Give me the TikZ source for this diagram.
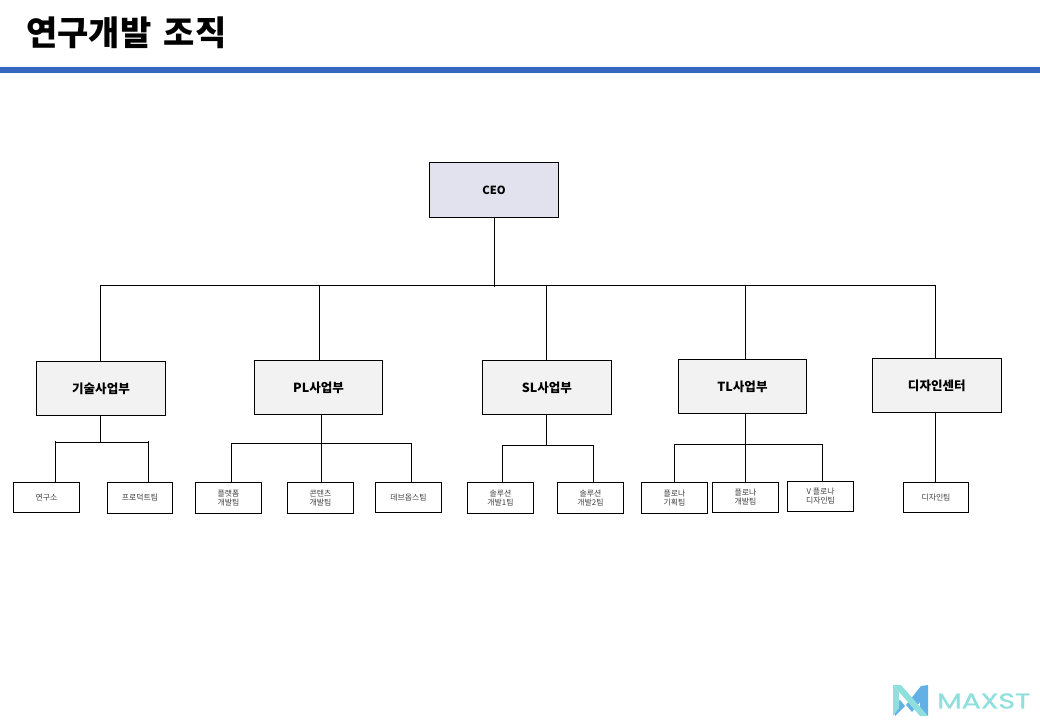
\documentclass[tikz,border=0pt]{standalone}
\usepackage{graphicx}
\usepackage{fontspec}
\setmainfont{Noto Sans CJK KR}
\newfontfamily\logofont[FakeBold=1]{Poppins}
\definecolor{barblue}{HTML}{3566C0}
\definecolor{ceofill}{HTML}{E2E2EF}
\definecolor{deptfill}{HTML}{F2F2F2}
\definecolor{logoa}{HTML}{8FE0DC}
\definecolor{logob}{HTML}{62B0E6}
\tikzset{
 px/.style={x=0.75pt,y=-0.75pt},
 ceobox/.style={draw=black,line width=0.7pt,fill=ceofill,minimum width=96.3pt,minimum height=41pt,inner sep=0pt,font=\fontsize{8.4pt}{10pt}\selectfont\bfseries},
 deptbox/.style={draw=black,line width=0.7pt,fill=deptfill,minimum width=96.3pt,minimum height=41pt,inner sep=0pt,font=\fontsize{9.4pt}{10pt}\selectfont\bfseries},
 widedept/.style={deptbox,minimum width=96.9pt},
 teambox/.style={draw=black,line width=0.7pt,fill=white,minimum width=49pt,minimum height=22.5pt,inner sep=0pt,align=center,text=black!75,font=\fontsize{5.9pt}{6.7pt}\selectfont},
 tallteam/.style={teambox,minimum height=23.2pt},
 conn/.style={draw=black,line width=0.7pt},
}
\begin{document}
\begin{tikzpicture}[px]
\useasboundingbox (0,0) rectangle (1040,720);
\fill[barblue] (0,67) rectangle (1040,73);
\node[anchor=west,inner sep=0pt,font=\fontsize{25.5pt}{28pt}\selectfont\bfseries] (title) at (26,33) {연구개발\hspace{3.5pt} 조직};
\node[ceobox] (ceo) at (494,190) {CEO};
\node[deptbox] (d1) at (101,388.5) {기술사업부};
\node[deptbox] (d2) at (318.5,387.5) {PL사업부};
\node[widedept] (d3) at (546.8,387.5) {SL사업부};
\node[deptbox] (d4) at (742.5,386.5) {TL사업부};
\node[widedept] (d5) at (936.8,385.5) {디자인센터};
\node[teambox] (t1) at (46.5,497.3) {연구소};
\node[tallteam] (t2) at (140,497.8) {프로덕트팀};
\node[tallteam] (t3) at (228.5,497.8) {플랫폼\\개발팀};
\node[tallteam] (t4) at (320.5,497.8) {콘텐츠\\개발팀};
\node[teambox] (t5) at (408.5,497.3) {데브옵스팀};
\node[tallteam] (t6) at (500.5,497.8) {솔루션\\개발1팀};
\node[tallteam] (t7) at (590.5,497.8) {솔루션\\개발2팀};
\node[tallteam] (t8) at (674.5,497.8) {플로나\\기획팀};
\node[teambox] (t9) at (745.5,497.3) {플로나\\개발팀};
\node[teambox] (t10) at (820.5,496.3) {V 플로나\\디자인팀};
\node[teambox] (t11) at (936,497.3) {디자인팀};
\draw[conn] (ceo.south) -- (494,287);
\draw[conn] (100.5,285.5) coordinate (c1) -- (935.5,285.5) coordinate (c5);
\draw[conn] (c1) -- (d1.north -| c1);
\draw[conn] (319.5,285.5) -- (d2.north -| 319.5,0);
\draw[conn] (546.5,285.5) -- (d3.north -| 546.5,0);
\draw[conn] (745,285.5) -- (d4.north -| 745,0);
\draw[conn] (c5) -- (d5.north -| c5);
\draw[conn] (d1.south -| 100.5,0) -- (100.5,442.5);
\draw[conn] (55.5,442.5) -- (148.5,442.5);
\draw[conn] (55.5,441.5) -- (t1.north -| 55.5,0);
\draw[conn] (148.5,441.5) -- (t2.north -| 148.5,0);
\draw[conn] (d2.south -| 321.5,0) -- (321.5,443.5);
\draw[conn] (231.5,443.5) -- (411.5,443.5);
\draw[conn] (231.5,443.5) -- (t3.north -| 231.5,0);
\draw[conn] (321.5,443.5) -- (t4.north -| 321.5,0);
\draw[conn] (411.5,443.5) -- (t5.north -| 411.5,0);
\draw[conn] (d3.south -| 546.5,0) -- (546.5,445.5);
\draw[conn] (502.5,445.5) -- (593.5,445.5);
\draw[conn] (502.5,445.5) -- (t6.north -| 502.5,0);
\draw[conn] (593.5,445.5) -- (t7.north -| 593.5,0);
\draw[conn] (d4.south -| 745,0) -- (745,444.5);
\draw[conn] (674.5,444.5) -- (822.5,444.5);
\draw[conn] (674.5,444.5) -- (t8.north);
\draw[conn] (745.5,444.5) -- (t9.north);
\draw[conn] (822.5,444.5) -- (t10.north -| 822.5,0);
\draw[conn] (d5.south -| 935.5,0) -- (t11.north -| 935.5,0);
% logo
\fill[logob] (893,706) -- (900,700) -- (905,706) -- (895,716) -- cycle;
\fill[logob] (928,685) -- (921,686) -- (906,705) -- (912,712) -- (920,702) -- (920,710) -- (928,716) -- cycle;
\fill[logoa] (893,685) -- (901,685) -- (928,716) -- (920,716) -- cycle;
\fill[logoa] (893,685) -- (899,692) -- (899,708) -- (893,716) -- cycle;
\node[anchor=west,text=logoa,inner sep=0pt,font=\logofont\fontsize{16pt}{20pt}\selectfont] (logo) at (937,701) {\scalebox{1.33}[1]{MAXST}};
\end{tikzpicture}
\end{document}
